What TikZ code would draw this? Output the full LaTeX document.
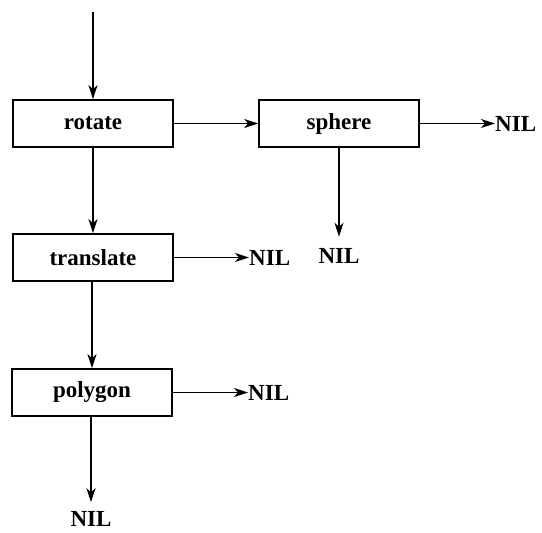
\documentclass[tikz,border=0pt]{standalone}
\usepackage{fontspec}
\setmainfont{Liberation Serif}
\usetikzlibrary{arrows.meta}

\begin{document}
\begin{tikzpicture}[x=1pt,y=-1pt,
  every node/.style={font=\fontsize{23}{27}\selectfont\bfseries},
  proc/.style={draw,line width=1.7pt,minimum width=160pt,minimum height=47pt,inner sep=0pt},
  nil/.style={inner sep=0pt},
  link/.style={line width=1.6pt,-{Stealth[length=14pt,width=9pt,inset=4pt]}}]
  \useasboundingbox (0,0) rectangle (542,533);

  % procedure boxes
  \node[proc] (rotate)    at (93,123.5)  {rotate};
  \node[proc] (sphere)    at (339,123.5) {sphere};
  \node[proc] (translate) at (93,257.5)  {translate};
  \node[proc] (polygon)   at (92,392.5)  {polygon};

  % terminal NIL labels
  \node[nil,anchor=west] (nilS)  at (495,123.5) {NIL};
  \node[nil] (nilSd) at (339,255.5) {NIL};
  \node[nil,anchor=west] (nilT)  at (249,257.5) {NIL};
  \node[nil,anchor=west] (nilP)  at (248,392.5) {NIL};
  \node[nil] (nilPd) at (91,519) {NIL};

  \coordinate (entry) at (93,12);

  % links
  \draw[link] (entry) -- (rotate.north);
  \draw[link] (rotate.east) -- (sphere.west);
  \draw[link] (sphere.east) -- (nilS.west);
  \draw[link,shorten >=11pt] (sphere.south) -- (nilSd.north);
  \draw[link] (rotate.south) -- (translate.north);
  \draw[link] (translate.east) -- (nilT.west);
  \draw[link] (translate.south -| polygon.north) -- (polygon.north);
  \draw[link] (polygon.east) -- (nilP.west);
  \draw[link,shorten >=9pt] (polygon.south -| nilPd.north) -- (nilPd.north);
\end{tikzpicture}
\end{document}
